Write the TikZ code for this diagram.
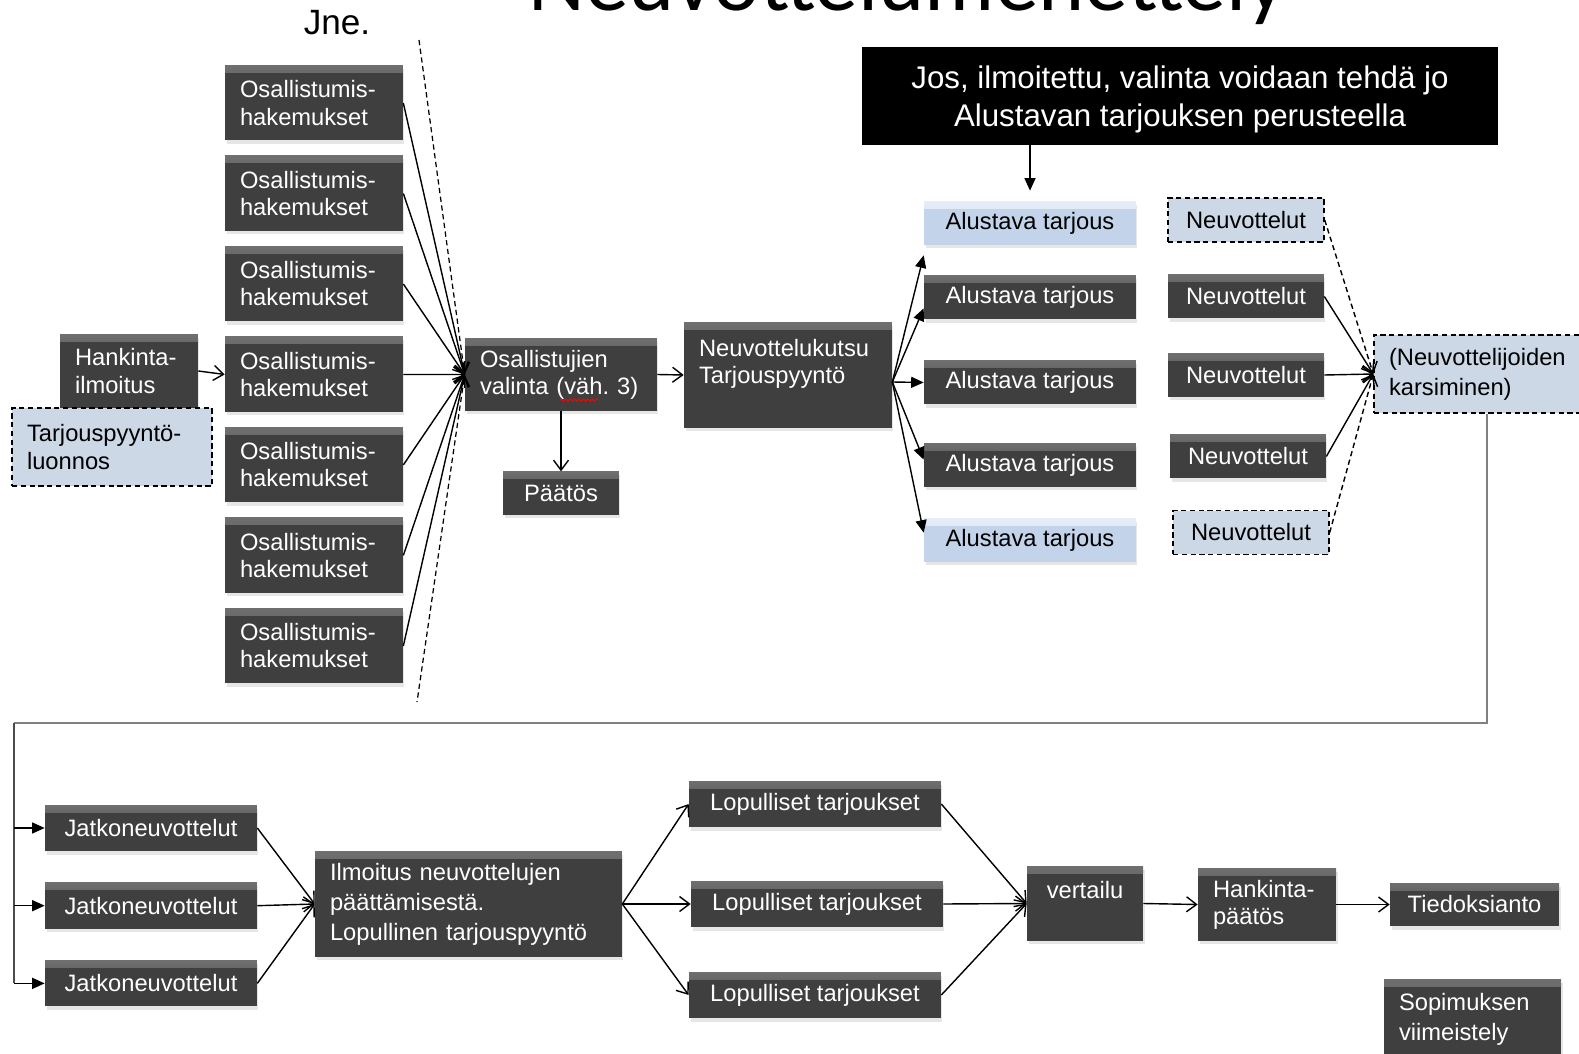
\documentclass[tikz,border=0pt]{standalone}
\usepackage{fontspec}
\setmainfont{Liberation Sans}
\newfontfamily\otsikkofontti{Carlito}
\usetikzlibrary{arrows.meta, positioning, chains, shadows, decorations.pathmorphing}

\definecolor{laatikko}{HTML}{3F3F3F}
\definecolor{sininen}{HTML}{C3D4EA}
\definecolor{vaalea}{HTML}{CDD8E6}
\newcommand{\perus}{\fontsize{13.5pt}{15.4pt}\selectfont}
\newcommand{\harva}{\fontsize{13.5pt}{17pt}\selectfont}

\tikzset{
    viiste/.style 2 args={path picture={
        \fill[top color=#1, bottom color=#2] (path picture bounding box.north west) rectangle ([yshift=-0.14cm]path picture bounding box.north east);}},
    tumma/.style={rectangle, fill=laatikko, text=white, font=\perus, inner xsep=0.3cm, inner ysep=0.08cm,
        drop shadow={opacity=0.2, shadow xshift=0.03cm, shadow yshift=-0.07cm}, viiste={white!25!laatikko}{laatikko}},
    sinilaatikko/.style={tumma, fill=sininen, text=black, viiste={white!60!sininen}{sininen}},
    katko/.style={rectangle, draw=black, line width=0.8pt, dash pattern=on 3pt off 2pt, fill=vaalea, text=black, font=\perus, inner xsep=0.3cm, inner ysep=0.08cm},
    mustalaatikko/.style={rectangle, fill=black, text=white, align=center, font=\fontsize{17.8pt}{22pt}\selectfont},
    alu/.style={minimum width=4.24cm, minimum height=0.88cm},
    neu/.style={minimum width=3.12cm, minimum height=0.88cm},
    lop/.style={minimum width=5.04cm, minimum height=0.92cm},
    nuoli/.style={draw, line width=0.8pt, -{Straight Barb[length=0.2cm, width=0.3cm]}},
    kolmio/.style={draw, line width=0.8pt, -{Triangle[length=0.25cm, width=0.22cm]}},
    paluu/.style={draw=gray, line width=1.2pt}
}

\begin{document}
\begin{tikzpicture}[x=0.02cm, y=-0.02cm]

    \useasboundingbox (0,0) rectangle (1579,1054);
    \clip (0,0) rectangle (1579,1054);

    \node[anchor=base west, inner sep=0, font=\otsikkofontti\fontsize{50pt}{56pt}\selectfont] (otsikko) at (528,11) {Neuvottelumenettely};
    \node[font=\fontsize{20pt}{24pt}\selectfont] (jne) at (337,23) {Jne.};

    % hakemukset
    \begin{scope}[start chain=osat going below, node distance=0.296cm, every node/.style={on chain, tumma, text width=2.96cm, align=left, minimum height=1.5cm}]
        \node (osa1) at (314,103) {Osallistumis-\\hakemukset};
        \node (osa2) {Osallistumis-\\hakemukset};
        \node (osa3) {Osallistumis-\\hakemukset};
        \node (osa4) {Osallistumis-\\hakemukset};
        \node (osa5) {Osallistumis-\\hakemukset};
        \node (osa6) {Osallistumis-\\hakemukset};
        \node (osa7) {Osallistumis-\\hakemukset};
    \end{scope}

    \node[tumma, text width=2.16cm, align=left, minimum height=1.48cm] (hank) at (129,371) {Hankinta-\\ilmoitus};
    \node[katko, text width=3.4cm, align=left, minimum height=1.56cm] (luonnos) at (112,447) {Tarjouspyyntö-\\luonnos};

    \node[tumma, text width=3.24cm, align=left, minimum height=1.46cm] (valinta) at (561,374.5) {Osallistujien\\\mbox{valinta (väh.\ 3)}};
    \node[tumma, minimum width=2.32cm, minimum height=0.86cm, below=1.2cm of valinta] (paatos) {Päätös};
    \node[tumma, text width=3.56cm, align=left, minimum height=2.12cm] (kutsu) at (788,375) {Neuvottelukutsu\\Tarjouspyyntö\\~};

    \node[mustalaatikko, minimum width=12.72cm, minimum height=1.96cm, text depth=-0.06cm] (musta) at (1180,96) {Jos, ilmoitettu, valinta voidaan tehdä jo\\Alustavan tarjouksen perusteella};

    \node[sinilaatikko, alu] (alu1) at (1030,223) {Alustava tarjous};
    \node[tumma, alu] (alu2) at (1030,297.5) {Alustava tarjous};
    \node[tumma, alu] (alu3) at (1030,382.5) {Alustava tarjous};
    \node[tumma, alu] (alu4) at (1030,465) {Alustava tarjous};
    \node[sinilaatikko, alu] (alu5) at (1030,540) {Alustava tarjous};

    \node[katko, neu] (neu1) at (1246,220) {Neuvottelut};
    \node[tumma, neu] (neu2) at (1246,296.5) {Neuvottelut};
    \node[tumma, neu] (neu3) at (1246,375) {Neuvottelut};
    \node[tumma, neu] (neu4) at (1248,456.5) {Neuvottelut};
    \node[katko, neu] (neu5) at (1251,532.5) {Neuvottelut};

    \node[katko, text width=3.92cm, align=left, minimum height=1.56cm, font=\harva] (karsi) at (1487,374) {(Neuvottelijoiden\\karsiminen)};

    % toinen rivi
    \begin{scope}[start chain=jatkot going below, node distance=0.62cm, every node/.style={on chain, tumma, minimum width=4.24cm, minimum height=0.92cm}]
        \node (jatko1) at (151,828) {Jatkoneuvottelut};
        \node (jatko2) {Jatkoneuvottelut};
        \node (jatko3) {Jatkoneuvottelut};
    \end{scope}

    \node[tumma, text width=5.54cm, align=left, minimum height=2.12cm, font=\harva] (ilmo) at (468.5,904) {Ilmoitus neuvottelujen\\päättämisestä.\\Lopullinen tarjouspyyntö};
    \node[tumma, lop] (lop1) at (815,804) {Lopulliset tarjoukset};
    \node[tumma, lop] (lop2) at (817,904) {Lopulliset tarjoukset};
    \node[tumma, lop] (lop3) at (815,995) {Lopulliset tarjoukset};
    \node[tumma, align=center, minimum width=2.32cm, minimum height=1.5cm] (vert) at (1085,903.5) {vertailu\\~};
    \node[tumma, text width=2.16cm, align=left, minimum height=1.46cm] (hpaat) at (1267,904.5) {Hankinta-\\päätös};
    \node[tumma, minimum width=3.38cm, minimum height=0.86cm] (tied) at (1474.5,904.5) {Tiedoksianto};
    \node[tumma, text width=2.94cm, align=left, minimum height=1.62cm, font=\harva] (sopim) at (1472.5,1019.5) {Sopimuksen\\viimeistely};

    % nuolet
    \coordinate (jneyla) at (419,40);
    \coordinate (jneala) at (417,702);
    \draw[line width=0.7pt, dash pattern=on 3pt off 2pt] (jneyla) -- (valinta.west) -- (jneala);
    \draw[red, line width=0.6pt, decorate, decoration={snake, amplitude=0.6pt, segment length=2.5pt}] (560,400) -- (598,400);

    \draw[nuoli] (hank.east) -- (osa4.west);
    \foreach \i in {1,...,7} \draw[nuoli] (osa\i.east) -- (valinta.west);
    \draw[nuoli] (valinta.south) -- (paatos.north);
    \draw[nuoli] (valinta.east) -- (kutsu.west);
    \draw[kolmio, shorten >=0.2cm] (alu1.north |- musta.south) -- (alu1.north);

    \coordinate (haara) at ([yshift=-0.14cm]kutsu.east);
    \draw[kolmio] (haara) -- ([yshift=-0.2cm]alu1.south west);
    \draw[kolmio] (haara) -- ([yshift=0.23cm]alu2.south west);
    \draw[kolmio] (haara) -- (alu3.west);
    \draw[kolmio] (haara) -- ([yshift=-0.34cm]alu4.north west);
    \draw[kolmio] (haara) -- ([yshift=-0.3cm]alu5.north west);

    \draw[nuoli, dash pattern=on 3pt off 2pt] (neu1.east) -- (karsi.west);
    \draw[nuoli] (neu2.east) -- (karsi.west);
    \draw[nuoli] (neu3.east) -- (karsi.west);
    \draw[nuoli] (neu4.east) -- (karsi.west);
    \draw[nuoli, dash pattern=on 3pt off 2pt] (neu5.east) -- (karsi.west);

    \coordinate (paluu) at (14,723);
    \draw[paluu] (karsi.south) |- (paluu);
    \draw[draw=gray!60!black, line width=1pt] (paluu) -- (paluu |- jatko3.west);
    \foreach \i in {1,2,3} \draw[kolmio] (paluu |- jatko\i.west) -- (jatko\i.west);

    \foreach \i in {1,2,3} \draw[nuoli] (jatko\i.east) -- (ilmo.west);
    \foreach \i in {1,2,3} \draw[nuoli] (ilmo.east) -- (lop\i.west);
    \foreach \i in {1,2,3} \draw[nuoli] (lop\i.east) -- (vert.west);
    \draw[nuoli] (vert.east) -- (hpaat.west);
    \draw[nuoli] (hpaat.east) -- (tied.west);

\end{tikzpicture}
\end{document}
